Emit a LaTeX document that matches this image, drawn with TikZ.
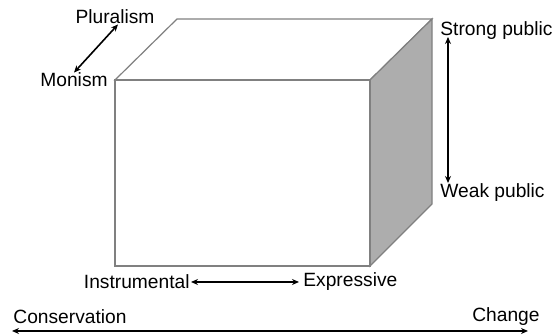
\documentclass[tikz,border=0pt]{standalone}
\usepackage{fontspec}
\setmainfont{Liberation Sans}
\usepackage{xcolor}
\usetikzlibrary{arrows.meta}
\definecolor{cubeedge}{HTML}{808080}
\definecolor{cubeside}{HTML}{ADADAD}
\tikzset{
  lbl/.style={inner sep=0pt, font=\fontsize{9.6}{11}\selectfont},
  axis/.style={line width=0.8pt, {Stealth[length=3.5pt,width=3pt]}-{Stealth[length=3.5pt,width=3pt]}}
}

\begin{document}
\begin{tikzpicture}[x=0.5pt, y=-0.5pt]
  \useasboundingbox (0,0) rectangle (558,335);
  % cube
  \filldraw[fill=white, draw=cubeedge, line width=0.6pt] (115,80) -- (177,19) -- (432,19) -- (370,80) -- cycle;
  \filldraw[fill=cubeside, draw=cubeedge, line width=0.6pt] (370,80) -- (432,19) -- (432,204) -- (370,266) -- cycle;
  \filldraw[fill=white, draw=cubeedge, line width=0.6pt] (115,80) rectangle (370,266);
  % labels
  \node[lbl] (plural) at (115,17) {Pluralism};
  \node[lbl] (monism) at (74,80) {Monism};
  \node[lbl, anchor=west] (strong) at (440,31) {Strong public};
  \node[lbl, anchor=west] (weak) at (440,193) {Weak public};
  \node[lbl, anchor=east] (instr) at (190,282) {Instrumental};
  \node[lbl, anchor=west] (expr) at (303,282) {Expressive};
  \node[lbl, anchor=west] (cons) at (13,317) {Conservation};
  \node[lbl, anchor=east] (change) at (540,317) {Change};
  \coordinate (top) at (448,37);
  \coordinate (bottom) at (448,183);
  \coordinate (left) at (12,331);
  \coordinate (right) at (528,331);
  % arrows
  \draw[axis] ([xshift=1.5pt]plural.south) -- (monism.north);
  \draw[axis] (top) -- (bottom);
  \draw[axis] ([xshift=0.5pt]instr.east) -- ([xshift=-2pt]expr.west);
  \draw[axis] (left) -- (right);
\end{tikzpicture}
\end{document}
